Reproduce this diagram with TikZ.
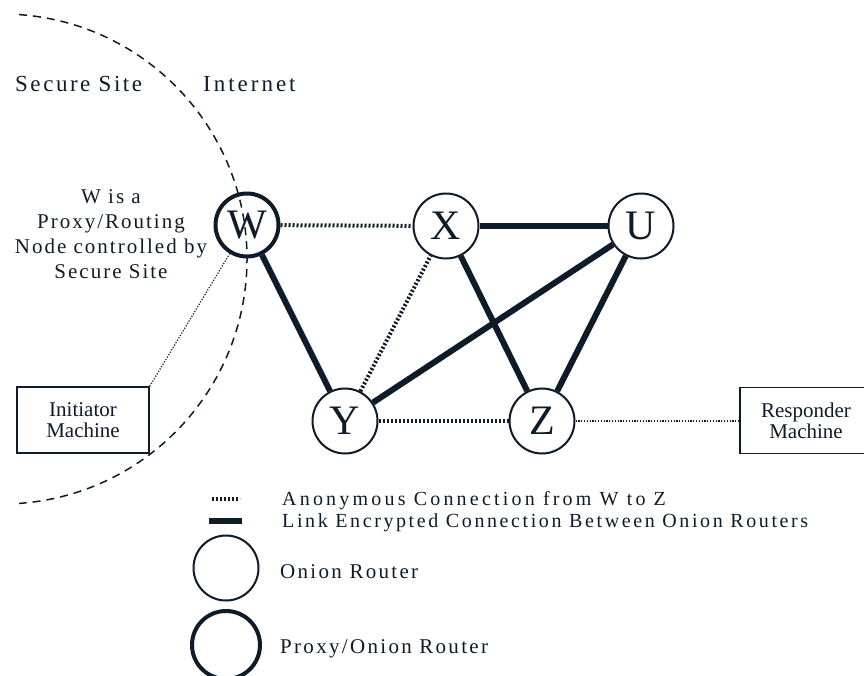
\documentclass[tikz,border=0pt]{standalone}
\usepackage{fontspec}
\setmainfont{Liberation Serif}
\newfontfamily\trkA[LetterSpace=11]{Liberation Serif}
\newfontfamily\trkE[LetterSpace=13]{Liberation Serif}
\newfontfamily\trkB[LetterSpace=9.5]{Liberation Serif}
\newfontfamily\trkC[LetterSpace=16]{Liberation Serif}
\newfontfamily\trkF[LetterSpace=13]{Liberation Serif}
\newfontfamily\trkD[LetterSpace=11]{Liberation Serif}
\definecolor{ink}{HTML}{0E1B28}
\begin{document}
\begin{tikzpicture}[x=1pt,y=-1pt,color=ink,text=ink,
  router/.style={circle,draw,line width=2pt,minimum size=65pt,inner sep=0pt,font=\fontsize{42}{42}\selectfont},
  proxy/.style={router,line width=4pt,minimum size=63pt},
  anon/.style={line width=4pt,dash pattern=on 2pt off 2pt},
  linkenc/.style={line width=6pt},
  thindot/.style={line width=1.2pt,dash pattern=on 1.2pt off 1.6pt},
  border/.style={line width=1.5pt,dash pattern=on 8pt off 6pt},
  machine/.style={draw,line width=1.4pt,minimum width=132pt,minimum height=66pt,align=center,inner sep=0pt,font=\fontsize{21}{21}\selectfont},
  toplbl/.style={inner sep=0pt,anchor=base west,font=\trkA\fontsize{23}{27}\selectfont},
  notelbl/.style={inner sep=0pt,align=center,font=\trkB\fontsize{21}{25}\selectfont},
  leglbl/.style={inner sep=0pt,anchor=base west,font=\trkC\fontsize{20}{24}\selectfont},
  legcirc/.style={inner sep=0pt,anchor=base west,font=\trkD\fontsize{21}{25}\selectfont}
]
\useasboundingbox (0,0) rectangle (864,675);

% routers
\node[proxy]  (W) at (247,225) {W};
\node[router] (X) at (446,226) {X};
\node[router] (U) at (641,226) {U};
\node[router] (Y) at (345,421) {Y};
\node[router] (Z) at (542,421) {Z};

% machines
\node[machine] (init) at (83,420) {Initiator\\Machine};
\node[machine] (resp) at (806,420.5) {Responder\\Machine};

% anonymous connection
\draw[anon] (W) -- (X);
\draw[anon] (Y) -- (Z);
\draw[anon] (Y) -- (X);

% link encrypted connections
\draw[linkenc] (W) -- (Y);
\draw[linkenc] (X) -- (U);
\draw[linkenc] (X) -- (Z);
\draw[linkenc] (Y) -- (U);
\draw[linkenc] (U) -- (Z);

% machine links
\draw[thindot] (init.north east) -- (W);
\draw[thindot] (Z.east) -- (Z.east -| resp.west);

% secure site boundary
\draw[border] (2,259) ++(-86:245) arc[start angle=-86,end angle=86,radius=245];

% labels
\node[toplbl] (ss) at (15,91) {Secure Site};
\node[toplbl,font=\trkE\fontsize{23}{27}\selectfont] (inet) at (203,91) {Internet};
\node[notelbl] (note) at (111,234.5) {W is a\\Proxy/Routing\\Node controlled by\\Secure Site};

% legend
\coordinate (la1) at (212,499);
\coordinate (la2) at (240,499);
\draw[anon] (la1) -- (la2);
\coordinate (lb1) at (209,521);
\coordinate (lb2) at (242,521);
\draw[line width=6pt] (lb1) -- (lb2);
\node[leglbl] (lanon) at (282,505) {Anonymous Connection from W to Z};
\node[leglbl,font=\trkF\fontsize{20}{24}\selectfont] (llink) at (282,527) {Link Encrypted Connection Between Onion Routers};
\node[router] (lor) at (226,568) {};
\node[proxy,minimum size=68pt] (lpr) at (226,645) {};
\node[legcirc] (lort) at (280,578) {Onion Router};
\node[legcirc] (lprt) at (280,653) {Proxy/Onion Router};
\end{tikzpicture}
\end{document}
